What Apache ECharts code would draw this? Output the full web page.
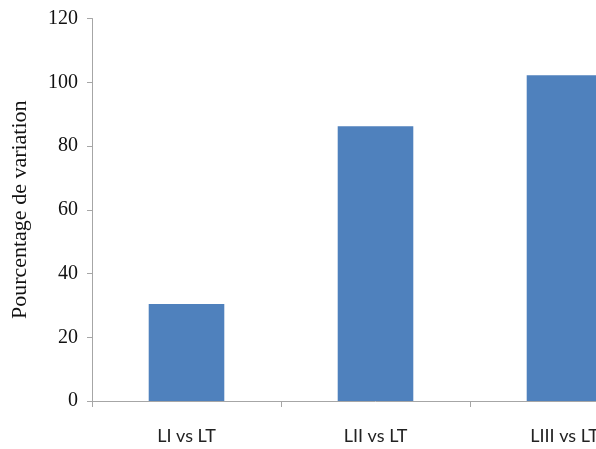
<!DOCTYPE html>
<html>
<head>
<meta charset="utf-8">
<script src="https://cdn.jsdelivr.net/npm/echarts@6/dist/echarts.min.js"></script>
<style>html,body{margin:0;padding:0;background:#fff;overflow:hidden;width:596px;height:449px;}#c{width:680px;height:449px;}</style>
</head>
<body>
<div id="c"></div>
<script>
const categories = ['LI vs LT', 'LII vs LT', 'LIII vs LT'];
const values = [30.4, 86.2, 102.2];
const yAxisName = 'Pourcentage de variation';

const chart = echarts.init(document.getElementById('c'), null, {renderer: 'canvas'});
chart.setOption({
  animation: false,
  backgroundColor: '#ffffff',
  grid: {left: 92, top: 18.5, width: 567, bottom: 48, containLabel: false},
  xAxis: {
    type: 'category',
    data: categories,
    boundaryGap: true,
    axisLine: {lineStyle: {color: '#a6a6a6', width: 1}},
    axisTick: {show: true, length: 6, alignWithLabel: false, lineStyle: {color: '#a6a6a6'}},
    axisLabel: {interval: 0, margin: 26, fontFamily: 'Lato', fontSize: 18, color: '#222'},
    splitLine: {show: false}
  },
  yAxis: {
    type: 'value',
    min: 0, max: 120, interval: 20,
    name: yAxisName,
    nameLocation: 'middle',
    nameGap: 61,
    nameTextStyle: {fontFamily: 'Liberation Serif', fontSize: 22, color: '#111'},
    axisLine: {show: true, lineStyle: {color: '#a6a6a6', width: 1}},
    axisTick: {show: true, length: 5, lineStyle: {color: '#a6a6a6'}},
    axisLabel: {margin: 14, fontFamily: 'Liberation Serif', fontSize: 20, color: '#111'},
    splitLine: {show: false}
  },
  series: [{
    type: 'bar',
    data: values,
    barWidth: '40%',
    itemStyle: {color: '#4f81bd'}
  }]
});
</script>
</body>
</html>
